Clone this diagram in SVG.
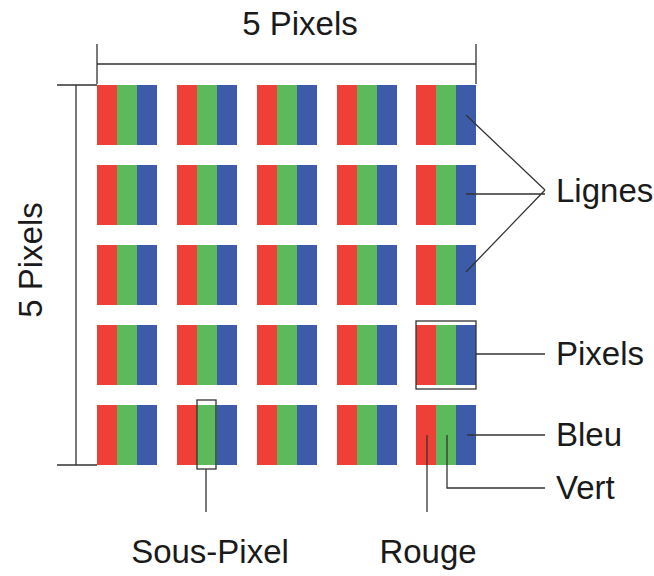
<svg xmlns="http://www.w3.org/2000/svg" width="654" height="576" viewBox="0 0 654 576">
<style>
.r{fill:#ee4036}.g{fill:#5dba5c}.b{fill:#3c5ba9}
.ln{stroke:#333;stroke-width:1.3;fill:none}
text{font-family:"Liberation Sans",Arial,sans-serif;font-size:33px;fill:#1a1a1a}
</style>
<defs>
<g id="px"><rect class="r" x="0" y="0" width="20" height="60"/><rect class="g" x="20" y="0" width="20" height="60"/><rect class="b" x="40" y="0" width="20" height="60"/></g>
</defs>
<g id="grid">
<use href="#px" x="97" y="85"/><use href="#px" x="177" y="85"/><use href="#px" x="257" y="85"/><use href="#px" x="337" y="85"/><use href="#px" x="416" y="85"/>
<use href="#px" x="97" y="165"/><use href="#px" x="177" y="165"/><use href="#px" x="257" y="165"/><use href="#px" x="337" y="165"/><use href="#px" x="416" y="165"/>
<use href="#px" x="97" y="245"/><use href="#px" x="177" y="245"/><use href="#px" x="257" y="245"/><use href="#px" x="337" y="245"/><use href="#px" x="416" y="245"/>
<use href="#px" x="97" y="325"/><use href="#px" x="177" y="325"/><use href="#px" x="257" y="325"/><use href="#px" x="337" y="325"/><use href="#px" x="416" y="325"/>
<use href="#px" x="97" y="405"/><use href="#px" x="177" y="405"/><use href="#px" x="257" y="405"/><use href="#px" x="337" y="405"/><use href="#px" x="416" y="405"/>
</g>
<g id="connectors" class="ln">
<path d="M97 44V84M476 44V84M97 64H476"/>
<path d="M57 85H97M57 465H97M76 85V465"/>
<path d="M466 115L545 190M466 194H545M466 272L545 190"/>
<rect x="416" y="321" width="60" height="68"/>
<path d="M476 354H545"/>
<path d="M467 435H545"/>
<path d="M447 435V488H545"/>
<path d="M427 435V512"/>
<rect x="197" y="400" width="19" height="69"/>
<path d="M206 469V512"/>
</g>
<g id="labels">
<text x="300" y="35" text-anchor="middle">5 Pixels</text>
<text transform="translate(42 260) rotate(-90)" text-anchor="middle">5 Pixels</text>
<text x="556" y="202">Lignes</text>
<text x="556" y="365">Pixels</text>
<text x="556" y="446">Bleu</text>
<text x="556" y="499">Vert</text>
<text x="210" y="563" text-anchor="middle">Sous-Pixel</text>
<text x="428" y="563" text-anchor="middle">Rouge</text>
</g>
</svg>
